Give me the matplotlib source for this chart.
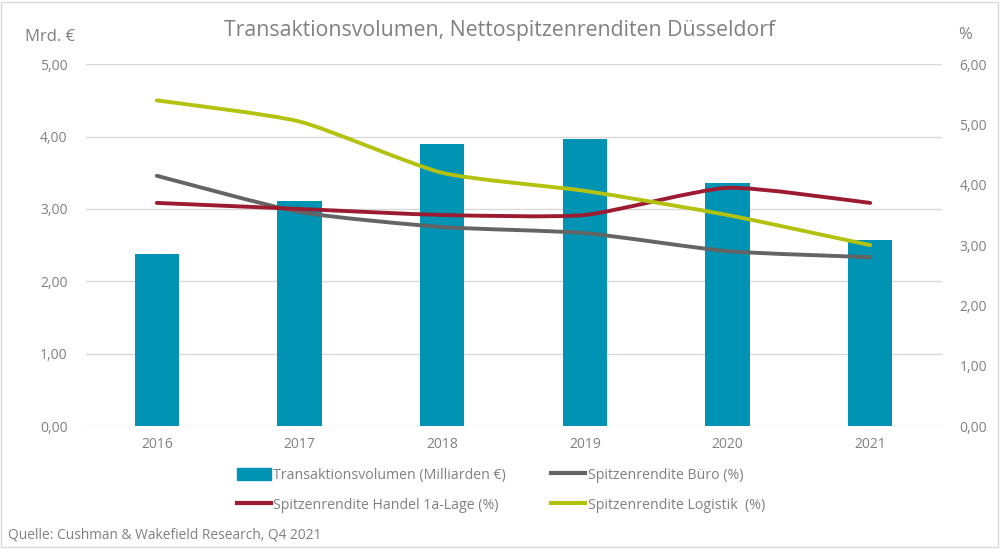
import numpy as np
import matplotlib.pyplot as plt
from matplotlib.path import Path
from matplotlib.patches import PathPatch, Patch, Rectangle
from matplotlib.lines import Line2D

plt.rcParams["font.family"] = ["Open Sans", "DejaVu Sans"]

jahre = ["2016", "2017", "2018", "2019", "2020", "2021"]
volumen = [2.38, 3.11, 3.90, 3.97, 3.36, 2.57]
buero = [4.15, 3.55, 3.30, 3.20, 2.90, 2.80]
handel = [3.70, 3.60, 3.50, 3.50, 3.95, 3.70]
logistik = [5.40, 5.05, 4.20, 3.90, 3.50, 3.00]

c_bar = "#0093b3"
c_buero = "#646464"
c_handel = "#9c1b31"
c_log = "#b2c20f"
c_text = "#808080"


def smooth_path(xs, ys, k=10):
    # Bezier-Kurve wie Excel "geglättete Linie"
    pts = np.column_stack([xs, ys]).astype(float)
    n = len(pts)
    verts = [pts[0]]
    codes = [Path.MOVETO]
    for i in range(n - 1):
        p0 = pts[max(i - 1, 0)]
        p1 = pts[i]
        p2 = pts[i + 1]
        p3 = pts[min(i + 2, n - 1)]
        c1 = p1 + (p2 - p0) / k
        c2 = p2 - (p3 - p1) / k
        verts += [c1, c2, p2]
        codes += [Path.CURVE4] * 3
    return Path(verts, codes)


fig = plt.figure(figsize=(10, 5.49), dpi=100)
ax = fig.add_axes([0.0855, 0.224, 0.856, 0.659])
x = np.arange(len(jahre))

ax.bar(x, volumen, width=0.31, color=c_bar, zorder=2)
ax.set_xlim(-0.5, 5.5)
ax.set_ylim(0, 5)
ax.set_yticks(np.arange(0, 6))
ax.set_yticklabels([f"{v:.2f}".replace(".", ",") for v in range(0, 6)])
ax.set_xticks(x)
ax.set_xticklabels(jahre)
ax.grid(axis="y", color="#d9d9d9", linewidth=1)
ax.set_axisbelow(True)
ax.tick_params(length=0, colors=c_text, labelsize=10)
ax.tick_params(axis="y", pad=13)
ax.tick_params(axis="x", pad=8)
for s in ax.spines.values():
    s.set_visible(False)

ax2 = ax.twinx()
ax2.set_ylim(0, 6)
ax2.set_yticks(np.arange(0, 7))
ax2.set_yticklabels([f"{v:.2f}".replace(".", ",") for v in range(0, 7)])
ax2.tick_params(length=0, colors=c_text, labelsize=10, pad=13)
for s in ax2.spines.values():
    s.set_visible(False)

for werte, farbe in [(buero, c_buero), (handel, c_handel), (logistik, c_log)]:
    patch = PathPatch(smooth_path(x, werte), facecolor="none", edgecolor=farbe,
                      linewidth=2.8, capstyle="round", zorder=3)
    ax2.add_patch(patch)

fig.text(0.5, 0.945, "Transaktionsvolumen, Nettospitzenrenditen Düsseldorf",
         ha="center", va="center", fontsize=15.3, color=c_text)
fig.text(0.025, 0.933, "Mrd. €", ha="left", va="center", fontsize=12, color=c_text)
fig.text(0.958, 0.936, "%", ha="left", va="center", fontsize=12, color=c_text)
fig.text(0.008, 0.025, "Quelle: Cushman & Wakefield Research, Q4 2021",
         ha="left", va="center", fontsize=9.9, color=c_text)

handles = [
    Patch(color=c_bar, label="Transaktionsvolumen (Milliarden €)"),
    Line2D([], [], color=c_handel, lw=3, label="Spitzenrendite Handel 1a-Lage (%)"),
    Line2D([], [], color=c_buero, lw=3, label="Spitzenrendite Büro (%)"),
    Line2D([], [], color=c_log, lw=3, label="Spitzenrendite Logistik  (%)"),
]
leg = fig.legend(handles=handles, ncol=2, loc="center", bbox_to_anchor=(0.501, 0.107),
                 frameon=False, fontsize=10.2, handlelength=2.4, handleheight=0.9,
                 handletextpad=0.15, columnspacing=3.2, labelspacing=1.05)
for t in leg.get_texts():
    t.set_color(c_text)

fig.patches.append(Rectangle((0.001, 0.003), 0.997, 0.994, transform=fig.transFigure,
                             fill=False, edgecolor="#d9d9d9", linewidth=1))

fig.savefig("out.png", dpi=100)
